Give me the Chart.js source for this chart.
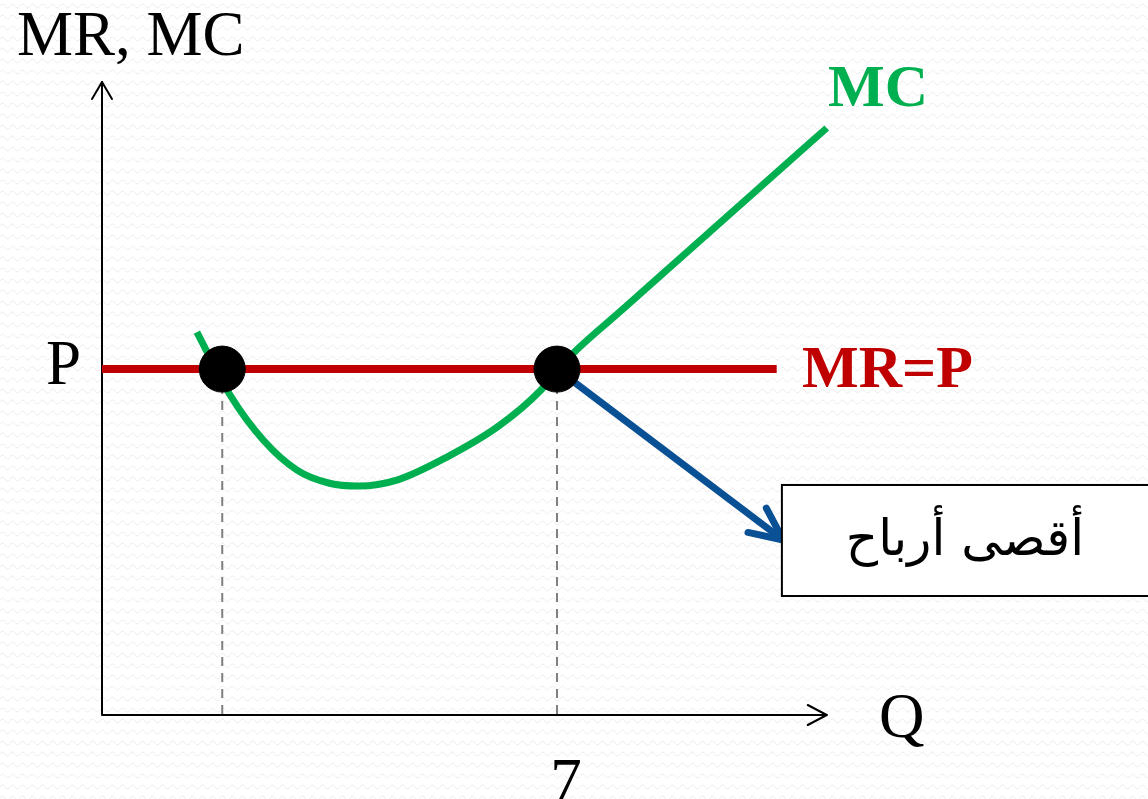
<!DOCTYPE html>
<html>
<head>
<meta charset="utf-8">
<script src="https://cdn.jsdelivr.net/npm/chart.js@4/dist/chart.umd.min.js"></script>
<style>
  html, body { margin: 0; padding: 0; background: #fff; }
  #wrap { width: 1148px; height: 799px; }
</style>
</head>
<body>
<div id="wrap"><canvas id="chart" width="1148" height="799"></canvas></div>
<script>
// price level and quantity tick
const priceP = 10;
const qTick = 7;

// MC curve (quantity, cost)
const mcQ = [1.46, 1.97, 2.48, 3.0, 3.5, 3.95, 4.55, 5.3, 6.1, 6.75, 7.0, 7.25, 8.0, 9.0, 10.0, 11.15];
const mcVal = [11.07, 9.25, 7.95, 7.08, 6.7, 6.62, 6.8, 7.45, 8.35, 9.39, 9.95, 10.46, 11.71, 13.38, 15.05, 16.97];

// MR = P horizontal line
const mrQ = [0, 10.38];

// intersections of MR and MC
const dotQ = [1.85, 7];

// arrow pointing to the note box
const arrowQ = [7, 10.48];
const arrowVal = [10, 5.06];

// note box extent (quantity, value)
const boxQ = [10.46, 16.2];
const boxVal = [6.65, 3.44];

const axisLabelY = "MR, MC";
const axisLabelX = "Q";
const priceLabel = "P";
const mcLabel = "MC";
const mrLabel = "MR=P";
const noteText = "أقصى أرباح";

const xMax = 11.15;
const yMax = 18.3;

const serif = '"Liberation Serif", "DejaVu Serif", serif';

function pts(xs, ys) {
  return xs.map((x, i) => ({ x: x, y: ys[i] }));
}

// faint wavy texture behind everything
function makeTexture() {
  const c = document.createElement("canvas");
  c.width = 10;
  c.height = 11;
  const g = c.getContext("2d");
  g.fillStyle = "#ffffff";
  g.fillRect(0, 0, 10, 11);
  g.strokeStyle = "rgba(0,0,0,0.07)";
  g.lineWidth = 1;
  g.beginPath();
  g.moveTo(0, 6);
  g.quadraticCurveTo(2.5, 2, 5, 6);
  g.quadraticCurveTo(7.5, 10, 10, 6);
  g.stroke();
  return c;
}

const decorations = {
  id: "decorations",
  beforeDraw(chart) {
    const ctx = chart.ctx;
    ctx.save();
    ctx.fillStyle = ctx.createPattern(makeTexture(), "repeat");
    ctx.fillRect(0, 0, chart.width, chart.height);
    ctx.restore();
  },
  beforeDatasetsDraw(chart) {
    const ctx = chart.ctx;
    const xs = chart.scales.x, ys = chart.scales.y;
    const x0 = xs.getPixelForValue(0), y0 = ys.getPixelForValue(0);
    const xEnd = xs.getPixelForValue(xMax), yEnd = ys.getPixelForValue(yMax);
    ctx.save();
    ctx.strokeStyle = "#000";
    ctx.lineWidth = 2;
    ctx.lineCap = "round";
    ctx.lineJoin = "round";
    // axes
    ctx.beginPath();
    ctx.moveTo(x0, y0);
    ctx.lineTo(x0, yEnd);
    ctx.moveTo(x0, y0);
    ctx.lineTo(xEnd, y0);
    ctx.stroke();
    // open arrow heads
    ctx.beginPath();
    ctx.moveTo(x0 - 10, yEnd + 17);
    ctx.lineTo(x0, yEnd);
    ctx.lineTo(x0 + 10, yEnd + 17);
    ctx.moveTo(xEnd - 19, y0 - 10);
    ctx.lineTo(xEnd, y0);
    ctx.lineTo(xEnd - 19, y0 + 10);
    ctx.stroke();
    ctx.restore();
  },
  afterDatasetsDraw(chart) {
    const ctx = chart.ctx;
    const xs = chart.scales.x, ys = chart.scales.y;
    // arrow head on the blue pointer
    const ax = xs.getPixelForValue(arrowQ[1]), ay = ys.getPixelForValue(arrowVal[1]);
    const bx = xs.getPixelForValue(arrowQ[0]), by = ys.getPixelForValue(arrowVal[0]);
    const ang = Math.atan2(by - ay, bx - ax);
    const len = 36, spread = 25 * Math.PI / 180;
    ctx.save();
    ctx.strokeStyle = "#0A5095";
    ctx.lineWidth = 7;
    ctx.lineCap = "round";
    ctx.lineJoin = "round";
    ctx.beginPath();
    ctx.moveTo(ax + len * Math.cos(ang - spread), ay + len * Math.sin(ang - spread));
    ctx.lineTo(ax, ay);
    ctx.lineTo(ax + len * Math.cos(ang + spread), ay + len * Math.sin(ang + spread));
    ctx.stroke();
    ctx.restore();
  },
  afterDraw(chart) {
    const ctx = chart.ctx;
    const xs = chart.scales.x, ys = chart.scales.y;
    ctx.save();
    // axis titles and tick labels
    ctx.fillStyle = "#000";
    ctx.textBaseline = "alphabetic";
    ctx.font = "63px " + serif;
    ctx.textAlign = "left";
    ctx.fillText(axisLabelY, 17, 55);
    ctx.fillText(priceLabel, 46, ys.getPixelForValue(priceP) + 15);
    ctx.fillText(axisLabelX, 879, 737);
    ctx.textAlign = "center";
    ctx.fillText(String(qTick), xs.getPixelForValue(qTick) + 9, 802);
    // curve labels
    ctx.textAlign = "left";
    ctx.font = "bold 60px " + serif;
    ctx.fillStyle = "#00B050";
    ctx.fillText(mcLabel, 828, 106);
    ctx.fillStyle = "#C00000";
    ctx.fillText(mrLabel, 802, ys.getPixelForValue(priceP) + 18);
    // note box, running off the right edge
    const l = xs.getPixelForValue(boxQ[0]), r = xs.getPixelForValue(boxQ[1]);
    const t = ys.getPixelForValue(boxVal[0]), b = ys.getPixelForValue(boxVal[1]);
    ctx.fillStyle = "#fff";
    ctx.fillRect(l, t, r - l, b - t);
    ctx.strokeStyle = "#000";
    ctx.lineWidth = 2;
    ctx.strokeRect(l, t, r - l, b - t);
    ctx.fillStyle = "#000";
    ctx.font = '50px "DejaVu Sans", sans-serif';
    ctx.textAlign = "center";
    ctx.direction = "rtl";
    ctx.fillText(noteText, (l + chart.width) / 2, (t + b) / 2 + 15);
    ctx.restore();
  }
};

new Chart(document.getElementById("chart"), {
  type: "scatter",
  data: {
    datasets: [
      {
        label: "dots",
        data: pts(dotQ, dotQ.map(() => priceP)),
        pointRadius: 23,
        pointHoverRadius: 23,
        pointBackgroundColor: "#000",
        pointBorderColor: "#000",
        showLine: false,
        order: 0,
        clip: false
      },
      {
        label: "MR",
        data: pts(mrQ, mrQ.map(() => priceP)),
        showLine: true,
        borderColor: "#C00000",
        borderWidth: 8,
        pointRadius: 0,
        order: 2,
        clip: false
      },
      {
        label: "MC",
        data: pts(mcQ, mcVal),
        showLine: true,
        borderColor: "#00B050",
        borderWidth: 7,
        cubicInterpolationMode: "monotone",
        pointRadius: 0,
        order: 1,
        clip: false
      },
      {
        label: "arrow",
        data: pts(arrowQ, arrowVal),
        showLine: true,
        borderColor: "#0A5095",
        borderWidth: 7,
        borderCapStyle: "round",
        pointRadius: 0,
        order: 1,
        clip: false
      },
      ...dotQ.map((q) => ({
        label: "guide",
        data: pts([q, q], [priceP, 0]),
        showLine: true,
        borderColor: "#808080",
        borderWidth: 2,
        borderDash: [9, 7],
        pointRadius: 0,
        order: 3,
        clip: false
      }))
    ]
  },
  options: {
    responsive: false,
    animation: false,
    events: [],
    layout: { padding: { left: 102, right: 1148 - 102 - 65 * xMax, top: 799 - 84 - 34.59 * yMax, bottom: 84 } },
    plugins: { legend: { display: false }, tooltip: { enabled: false } },
    scales: {
      x: { type: "linear", min: 0, max: xMax, display: false },
      y: { type: "linear", min: 0, max: yMax, display: false }
    }
  },
  plugins: [decorations]
});
</script>
</body>
</html>
